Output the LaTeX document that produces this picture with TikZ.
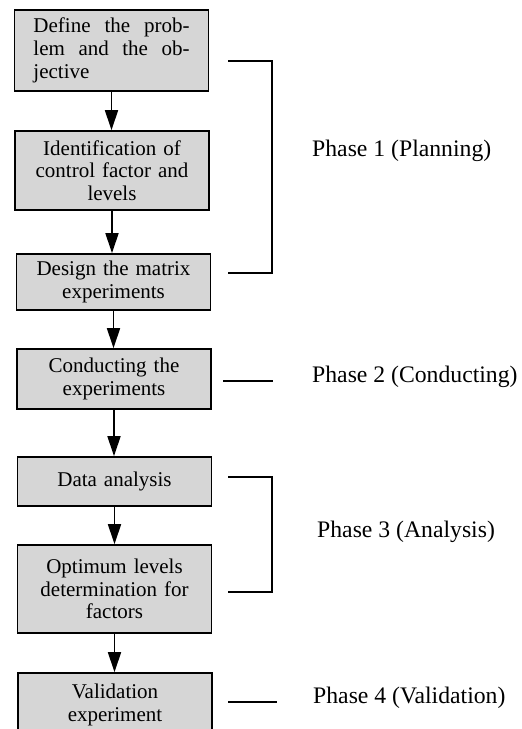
\documentclass[tikz,border=0pt]{standalone}
\usepackage{fontspec}
\setmainfont{Liberation Serif}
\usetikzlibrary{arrows.meta}
\definecolor{boxgray}{HTML}{D6D6D6}
\begin{document}
\begin{tikzpicture}[x=1pt,y=-1pt,
  stepbox/.style={draw, line width=1.6pt, fill=boxgray, inner sep=0pt,
    minimum width=194pt, text width=180pt, align=center,
    font=\fontsize{21}{22.5}\selectfont},
  flow/.style={line width=1.5pt, -{Triangle[width=13pt,length=20pt]}},
  brk/.style={line width=1.6pt},
  phase/.style={anchor=base west, inner sep=0pt, font=\fontsize{23.7}{26}\selectfont}]
\useasboundingbox (0,0) rectangle (522,729);
% boxes
\node[stepbox, minimum height=81pt, text width=156pt, align=justify,
  font=\fontsize{21}{23}\selectfont] (b1) at (111.5,50.5)
  {\leftskip=8pt Define the prob-\linebreak lem and the ob-\linebreak jective};
\node[stepbox, minimum height=79pt] (b2) at (112,170.5)
  {Identification of\\control factor and\\levels};
\node[stepbox, minimum height=56pt] (b3) at (113.5,282)
  {Design the matrix\\experiments};
\node[stepbox, minimum height=60pt] (b4) at (114,379)
  {Conducting the\\experiments};
\node[stepbox, minimum height=49pt] (b5) at (114.5,481.5)
  {Data analysis};
\node[stepbox, minimum height=88pt] (b6) at (114.5,589)
  {Optimum levels\\determination for\\factors};
\node[stepbox, minimum height=64pt] (b7) at (115,705)
  {Validation\\experiment};
% arrows
\draw[flow] (b1.south) -- (b1.south |- b2.north);
\draw[flow] (b2.south) -- (b2.south |- b3.north);
\draw[flow] (b3.south) -- (b3.south |- b4.north);
\draw[flow] (b4.south) -- (b4.south |- b5.north);
\draw[flow] (b5.south) -- (b5.south |- b6.north);
\draw[flow] (b6.south) -- (b6.south |- b7.north);
% phase brackets
\coordinate (p1t) at (228,61);
\coordinate (p1b) at (228,273);
\draw[brk] (p1t) -- ++(44,0) |- (p1b);
\node[phase] (t1) at (312,156) {Phase 1 (Planning)};
\coordinate (p2a) at (223,381);
\coordinate (p2b) at (273,381);
\draw[brk] (p2a) -- (p2b);
\node[phase] (t2) at (312,382) {Phase 2 (Conducting)};
\coordinate (p3t) at (228,477);
\coordinate (p3b) at (228,592);
\draw[brk] (p3t) -- ++(44,0) |- (p3b);
\node[phase] (t3) at (317,537) {Phase 3 (Analysis)};
\coordinate (p4a) at (228,702);
\coordinate (p4b) at (277,702);
\draw[brk] (p4a) -- (p4b);
\node[phase] (t4) at (313,703) {Phase 4 (Validation)};
\end{tikzpicture}
\end{document}
